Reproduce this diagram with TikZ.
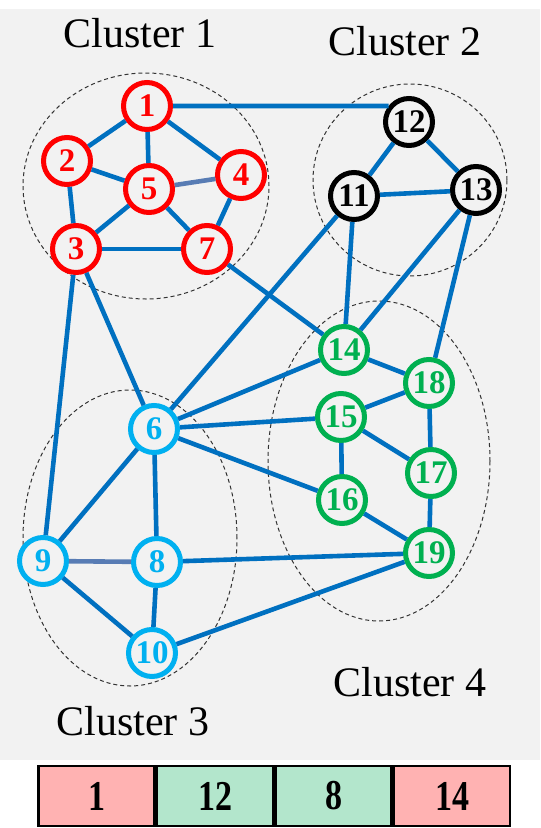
\documentclass[tikz,border=0pt]{standalone}
\usepackage{fontspec}
\setmainfont{Liberation Serif}
\usetikzlibrary{positioning}
\definecolor{edgeblue}{RGB}{0,112,192}
\definecolor{edgegrey}{RGB}{88,124,180}
\definecolor{bggrey}{RGB}{242,242,242}
\definecolor{vred}{RGB}{255,0,0}
\definecolor{vcyan}{RGB}{0,176,240}
\definecolor{vgreen}{RGB}{0,176,80}
\definecolor{cellpink}{RGB}{255,178,178}
\definecolor{cellgreen}{RGB}{179,230,204}

\begin{document}
\begin{tikzpicture}[x=1pt,y=-1pt,node distance=0pt,
vtx/.style={circle,draw=#1,text=#1,line width=5pt,fill=bggrey,minimum size=47pt,inner sep=0pt,font=\fontsize{33}{33}\selectfont\bfseries},
link/.style={edgeblue,line width=4.6pt},
clus/.style={draw=black!80,line width=1pt,dash pattern=on 4pt off 3pt},
lbl/.style={font=\fontsize{42}{42}\selectfont},
cell/.style={rectangle,draw,line width=2.5pt,fill=#1,minimum width=116pt,minimum height=60pt,inner sep=0pt,font=\fontsize{34}{34}\selectfont\bfseries}]
\useasboundingbox (0,0) rectangle (541,828);
\fill[bggrey] (0,9) rectangle (540,760);
% clusters
\draw[clus] (146,186) ellipse [x radius=123pt,y radius=113pt];
\draw[clus] (410,180) ellipse [x radius=97pt,y radius=96pt];
\draw[clus] (130,538) ellipse [x radius=107pt,y radius=148pt];
\draw[clus] (379,461) ellipse [x radius=111pt,y radius=160pt];
\node[lbl] (l1) at (140,33) {Cluster 1};
\node[lbl] (l2) at (405,41) {Cluster 2};
\node[lbl] (l3) at (133,721) {Cluster 3};
\node[lbl] (l4) at (410,682) {Cluster 4};
% vertices
\node[vtx=vred] (n1) at (147,106) {1};
\node[vtx=vred] (n2) at (67,161) {2};
\node[vtx=vred] (n3) at (76,249) {3};
\node[vtx=vred] (n4) at (241,175) {4};
\node[vtx=vred] (n5) at (149,189) {5};
\node[vtx=vred] (n7) at (207,249) {7};
\node[vtx=black] (n11) at (354,196) {11};
\node[vtx=black] (n12) at (409,122) {12};
\node[vtx=black] (n13) at (476,190) {13};
\node[vtx=vcyan] (n6) at (154,429) {6};
\node[vtx=vcyan] (n8) at (157,562) {8};
\node[vtx=vcyan] (n9) at (43,561) {9};
\node[vtx=vcyan] (n10) at (152,653) {10};
\node[vtx=vgreen] (n14) at (344,350) {14};
\node[vtx=vgreen] (n15) at (341,417) {15};
\node[vtx=vgreen] (n16) at (342,500) {16};
\node[vtx=vgreen] (n17) at (431,473) {17};
\node[vtx=vgreen] (n18) at (429,383) {18};
\node[vtx=vgreen] (n19) at (429,553) {19};
% links
\draw[link](n1)--(n2); \draw[link](n1)--(n5); \draw[link](n1)--(n4); \draw[link](n2)--(n5);
\draw[link](n2)--(n3); \draw[link,edgegrey](n5)--(n4); \draw[link](n5)--(n3); \draw[link](n5)--(n7);
\draw[link](n4)--(n7); \draw[link](n3)--(n7); \draw[link](n1)--(n12.142);
\draw[link](n12)--(n11); \draw[link](n12)--(n13); \draw[link](n11)--(n13);
\draw[link](n11)--(n6); \draw[link](n11)--(n14); \draw[link](n13)--(n14); \draw[link](n13)--(n18);
\draw[link](n7)--(n14); \draw[link](n3)--(n9); \draw[link](n3)--(n6);
\draw[link](n6)--(n14); \draw[link](n6)--(n15); \draw[link](n6)--(n16); \draw[link](n6)--(n9); \draw[link](n6)--(n8);
\draw[link,edgegrey](n9)--(n8); \draw[link](n9)--(n10); \draw[link](n8)--(n10); \draw[link](n8)--(n19); \draw[link](n10)--(n19);
\draw[link](n14)--(n18); \draw[link](n15)--(n18); \draw[link](n15)--(n17); \draw[link](n15)--(n16);
\draw[link](n18)--(n17); \draw[link](n17)--(n19); \draw[link](n16)--(n19);
% table
\node[cell=cellpink] (c1) at (96.5,796) {\scalebox{1}[1.25]{1}};
\node[cell=cellgreen,right=of c1] (c2) {\scalebox{1}[1.25]{12}};
\node[cell=cellgreen,right=of c2] (c3) {\scalebox{1}[1.25]{8}};
\node[cell=cellpink,right=of c3] (c4) {\scalebox{1}[1.25]{14}};
\end{tikzpicture}
\end{document}
